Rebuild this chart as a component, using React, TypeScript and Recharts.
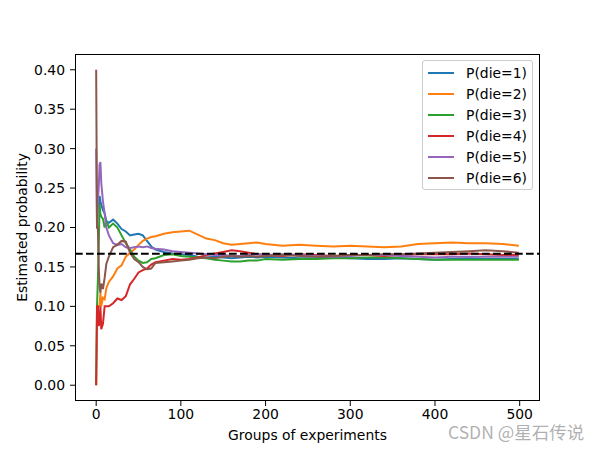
import { LineChart, Line, XAxis, YAxis, ReferenceLine, Legend } from 'recharts';

// groups of experiments (x positions)
const groups = [
	0, 1, 2, 3, 4, 5, 6, 8, 10, 12, 15, 20, 25, 30, 35, 40, 45, 50, 55, 60, 65, 70, 80, 90, 100,
	110, 120, 130, 140, 150, 160, 170, 180, 190, 200, 220, 240, 260, 280, 300, 320, 340, 360, 380,
	400, 420, 440, 460, 480, 499,
];

const die1 = [
	0.2, 0.2, 0.233, 0.225, 0.24, 0.233, 0.229, 0.222, 0.218, 0.208, 0.206, 0.21, 0.205, 0.198,
	0.195, 0.19, 0.191, 0.192, 0.19, 0.183, 0.176, 0.172, 0.169, 0.167, 0.166, 0.165, 0.163, 0.162,
	0.163, 0.162, 0.161, 0.162, 0.163, 0.162, 0.163, 0.162, 0.161, 0.161, 0.162, 0.161, 0.16, 0.16,
	0.161, 0.16, 0.159, 0.16, 0.161, 0.16, 0.16, 0.16,
];
const die2 = [
	0.1, 0.1, 0.1, 0.1, 0.1, 0.117, 0.1, 0.111, 0.109, 0.123, 0.131, 0.138, 0.148, 0.152, 0.163,
	0.168, 0.172, 0.178, 0.183, 0.186, 0.188, 0.189, 0.192, 0.194, 0.195, 0.196, 0.191, 0.186, 0.184,
	0.18, 0.178, 0.179, 0.18, 0.181, 0.179, 0.177, 0.178, 0.177, 0.176, 0.177, 0.176, 0.175, 0.176,
	0.179, 0.18, 0.181, 0.18, 0.18, 0.179, 0.177,
];
const die3 = [
	0.0, 0.1, 0.133, 0.175, 0.23, 0.217, 0.214, 0.211, 0.2, 0.208, 0.2, 0.205, 0.2, 0.19, 0.18,
	0.172, 0.163, 0.158, 0.155, 0.156, 0.16, 0.161, 0.165, 0.166, 0.164, 0.163, 0.162, 0.161, 0.159,
	0.158, 0.157, 0.157, 0.158, 0.158, 0.16, 0.159, 0.16, 0.16, 0.161, 0.161, 0.162, 0.162, 0.161,
	0.16, 0.159, 0.159, 0.159, 0.159, 0.159, 0.159,
];
const die4 = [
	0.0, 0.1, 0.1, 0.075, 0.08, 0.1, 0.071, 0.078, 0.1, 0.1, 0.1, 0.104, 0.11, 0.108, 0.113, 0.128,
	0.135, 0.143, 0.146, 0.148, 0.153, 0.156, 0.158, 0.16, 0.159, 0.16, 0.162, 0.165, 0.167, 0.169,
	0.171, 0.17, 0.168, 0.166, 0.165, 0.164, 0.166, 0.165, 0.164, 0.165, 0.165, 0.164, 0.165, 0.166,
	0.166, 0.166, 0.167, 0.166, 0.165, 0.165,
];
const die5 = [
	0.3, 0.2, 0.233, 0.25, 0.28, 0.283, 0.257, 0.233, 0.218, 0.2, 0.19, 0.18, 0.178, 0.179, 0.175,
	0.174, 0.175, 0.176, 0.175, 0.176, 0.174, 0.173, 0.172, 0.17, 0.169, 0.168, 0.167, 0.166, 0.165,
	0.165, 0.164, 0.164, 0.165, 0.166, 0.165, 0.166, 0.165, 0.164, 0.163, 0.164, 0.165, 0.165, 0.164,
	0.163, 0.162, 0.163, 0.163, 0.163, 0.163, 0.163,
];
const die6 = [
	0.4, 0.2, 0.2, 0.15, 0.125, 0.117, 0.129, 0.122, 0.136, 0.154, 0.163, 0.175, 0.178, 0.183, 0.182,
	0.168, 0.16, 0.156, 0.15, 0.147, 0.148, 0.155, 0.156, 0.157, 0.158, 0.159, 0.161, 0.162, 0.161,
	0.163, 0.164, 0.163, 0.164, 0.163, 0.164, 0.165, 0.164, 0.163, 0.164, 0.165, 0.165, 0.166, 0.166,
	0.167, 0.168, 0.169, 0.17, 0.171, 0.17, 0.168,
];

const seriesNames = ['P(die=1)', 'P(die=2)', 'P(die=3)', 'P(die=4)', 'P(die=5)', 'P(die=6)'];
const colors = ['#1f77b4', '#ff7f0e', '#2ca02c', '#d62728', '#9467bd', '#8c564b'];
const xTicks = [0, 100, 200, 300, 400, 500];
const yTicks = [0, 0.05, 0.1, 0.15, 0.2, 0.25, 0.3, 0.35, 0.4];

const allSeries = [die1, die2, die3, die4, die5, die6];
const data = groups.map((g, i) => {
	const row: Record<string, number> = { x: g };
	allSeries.forEach((s, k) => {
		row['d' + (k + 1)] = s[i];
	});
	return row;
});

const font = '"DejaVu Sans", sans-serif';

const LegendBox = () => (
	<div
		style={{
			width: 111,
			boxSizing: 'border-box',
			border: '1px solid #cccccc',
			borderRadius: 3,
			background: 'rgba(255,255,255,0.8)',
			padding: '1px 5px',
			fontFamily: font,
			fontSize: 13.9,
			color: '#000',
		}}
	>
		{seriesNames.map((name, i) => (
			<div key={name} style={{ height: 21, display: 'flex', alignItems: 'center' }}>
				<svg width={28} height={4} style={{ marginRight: 12 }}>
					<line x1={0} y1={2} x2={28} y2={2} stroke={colors[i]} strokeWidth={2} />
				</svg>
				<span>{name}</span>
			</div>
		))}
	</div>
);

export default function App() {
	return (
		<div style={{ position: 'absolute', left: 0, top: 0, width: 600, height: 450, background: '#fff' }}>
			<LineChart
				width={600}
				height={450}
				data={data}
				margin={{ top: 54, right: 60, left: 0, bottom: 0 }}
			>
				<XAxis
					dataKey="x"
					type="number"
					domain={[-25, 524]}
					ticks={xTicks}
					allowDataOverflow
					height={49}
					axisLine={false}
					tickLine={{ stroke: '#000', strokeWidth: 1 }}
					tickSize={5}
					tickMargin={3}
					tick={{ fill: '#000', fontSize: 13.9, fontFamily: font }}
					label={{
						value: 'Groups of experiments',
						position: 'insideBottom',
						offset: 10,
						fill: '#000',
						fontSize: 13.9,
						fontFamily: font,
					}}
				/>
				<YAxis
					type="number"
					domain={[-0.02, 0.42]}
					ticks={yTicks}
					allowDataOverflow
					width={75}
					axisLine={false}
					tickLine={{ stroke: '#000', strokeWidth: 1 }}
					tickSize={5}
					tickMargin={5}
					tickFormatter={(v: number) => v.toFixed(2)}
					tick={{ fill: '#000', fontSize: 13.9, fontFamily: font }}
					label={{
						value: 'Estimated probability',
						angle: -90,
						position: 'center',
						dx: -15,
						fill: '#000',
						fontSize: 13.9,
						fontFamily: font,
					}}
				/>
				{allSeries.map((_, k) => (
					<Line
						key={k}
						type="linear"
						dataKey={'d' + (k + 1)}
						name={seriesNames[k]}
						stroke={colors[k]}
						strokeWidth={2}
						dot={false}
						isAnimationActive={false}
					/>
				))}
				<ReferenceLine y={1 / 6} stroke="#000" strokeWidth={2} strokeDasharray="7.7 3.3" />
				<Legend
					layout="vertical"
					align="center"
					verticalAlign="middle"
					wrapperStyle={{ top: 60, left: 422, width: 111 }}
					content={() => <LegendBox />}
				/>
			</LineChart>
			<div
				style={{
					position: 'absolute',
					left: 75,
					top: 54,
					width: 465,
					height: 347,
					boxSizing: 'border-box',
					border: '1px solid #000',
					pointerEvents: 'none',
				}}
			/>
			<div
				style={{
					position: 'absolute',
					left: 448,
					top: 423,
					lineHeight: 1,
					fontFamily: '"Noto Sans CJK SC", sans-serif',
					fontSize: 17.5,
					color: 'rgba(150,150,150,0.75)',
					whiteSpace: 'nowrap',
				}}
			>
				CSDN @星石传说
			</div>
		</div>
	);
}
